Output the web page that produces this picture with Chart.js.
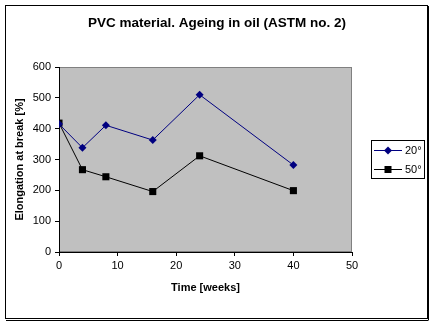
<!DOCTYPE html>
<html>
<head>
<meta charset="utf-8">
<script src="https://cdn.jsdelivr.net/npm/chart.js@4"></script>
<style>
  html, body { margin: 0; padding: 0; background: #fff; }
  #wrap { width: 435px; height: 325px; }
</style>
</head>
<body>
<div id="wrap"><canvas id="chart" width="435" height="325"></canvas></div>
<script>
// data
var weeks = [0, 4, 8, 16, 24, 40];
var elong20 = [415, 338, 411, 363, 510, 282];
var elong50 = [418, 267, 244, 196, 312, 199];
var seriesLabels = ['20°', '50°'];
var chartTitle = 'PVC material. Ageing in oil (ASTM no. 2)';

var FONT = "Arial, 'Liberation Sans', sans-serif";

// gray plot area + outer frame + title centred on the whole frame, Excel style
var frame = {
    id: 'frame',
    beforeDraw: function (chart) {
        var ctx = chart.ctx, a = chart.chartArea;
        ctx.save();
        ctx.fillStyle = '#fff';
        ctx.fillRect(0, 0, chart.width, chart.height);
        ctx.strokeStyle = '#000';
        ctx.lineWidth = 1;
        ctx.strokeRect(5.5, 5.5, 422, 313);
        ctx.beginPath();
        ctx.moveTo(428.5, 6); ctx.lineTo(428.5, 320);
        ctx.moveTo(6, 320.5); ctx.lineTo(428.5, 320.5);
        ctx.stroke();
        ctx.fillStyle = '#c0c0c0';
        ctx.fillRect(a.left, a.top, a.right - a.left, a.bottom - a.top);
        ctx.strokeStyle = '#808080';
        ctx.strokeRect(a.left + 0.5, a.top + 0.5, a.right - a.left - 1, a.bottom - a.top - 1);

        ctx.fillStyle = '#000';
        ctx.font = 'bold 13.5px ' + FONT;
        ctx.textAlign = 'center';
        ctx.textBaseline = 'middle';
        ctx.fillText(chartTitle, 217, 23);
        ctx.restore();
    }
};

// legend box with line + marker, drawn from the dataset styles
var legendBox = {
    id: 'legendBox',
    afterDraw: function (chart) {
        var ctx = chart.ctx;
        var x = 371, y = 140, w = 53, h = 38;
        ctx.save();
        ctx.fillStyle = '#fff';
        ctx.fillRect(x, y, w, h);
        ctx.strokeStyle = '#000';
        ctx.lineWidth = 1;
        ctx.strokeRect(x + 0.5, y + 0.5, w, h);
        chart.data.datasets.forEach(function (ds, i) {
            var cy = y + 10.5 + i * 19;
            ctx.strokeStyle = ds.borderColor;
            ctx.beginPath();
            ctx.moveTo(374, cy); ctx.lineTo(402, cy);
            ctx.stroke();
            ctx.fillStyle = ds.pointBackgroundColor;
            ctx.beginPath();
            if (ds.pointStyle === 'rectRot') {
                ctx.moveTo(388, cy - 4); ctx.lineTo(392, cy);
                ctx.lineTo(388, cy + 4); ctx.lineTo(384, cy);
                ctx.closePath();
                ctx.fill();
            } else {
                ctx.fillRect(384.5, cy - 3.5, 7, 7);
            }
            ctx.fillStyle = '#000';
            ctx.font = '11px ' + FONT;
            ctx.textBaseline = 'middle';
            ctx.fillText(ds.label, 405, cy);
        });
        ctx.restore();
    }
};

var ctx = document.getElementById('chart').getContext('2d');
var myChart = new Chart(ctx, {
    type: 'scatter',
    data: {
        datasets: [
            {
                label: seriesLabels[0],
                data: weeks.map(function (t, i) { return { x: t, y: elong20[i] }; }),
                showLine: true,
                borderColor: '#000080',
                borderWidth: 1,
                pointStyle: 'rectRot',
                pointRadius: 4,
                pointBackgroundColor: '#000080',
                pointBorderColor: '#000080',
                pointBorderWidth: 0
            },
            {
                label: seriesLabels[1],
                data: weeks.map(function (t, i) { return { x: t, y: elong50[i] }; }),
                showLine: true,
                borderColor: '#000000',
                borderWidth: 1,
                pointStyle: 'rect',
                pointRadius: 5,
                pointBackgroundColor: '#000000',
                pointBorderColor: '#000000',
                pointBorderWidth: 0
            }
        ]
    },
    options: {
        responsive: false,
        animation: false,
        layout: { padding: { left: 5, right: 83, top: 67, bottom: 10 } },
        scales: {
            x: {
                type: 'linear',
                position: 'bottom',
                min: 0, max: 50,
                ticks: { stepSize: 10, color: '#000', font: { family: FONT, size: 11 }, padding: 3, maxRotation: 0 },
                grid: { drawOnChartArea: false, drawTicks: true, tickLength: 4, color: '#000' },
                border: { display: true, color: '#000' },
                title: {
                    display: true,
                    text: 'Time [weeks]',
                    color: '#000',
                    font: { family: FONT, size: 11, weight: 'bold' },
                    padding: { top: 20, bottom: 20 }
                },
                afterFit: function (s) { s.height = 63; }
            },
            y: {
                type: 'linear',
                position: 'left',
                min: 0, max: 600,
                ticks: { stepSize: 100, color: '#000', font: { family: FONT, size: 11 }, padding: 4 },
                grid: { drawOnChartArea: false, drawTicks: true, tickLength: 4, color: '#000' },
                border: { display: true, color: '#000' },
                title: {
                    display: true,
                    text: 'Elongation at break [%]',
                    color: '#000',
                    font: { family: FONT, size: 11, weight: 'bold' },
                    padding: { top: 8, bottom: 8 }
                },
                afterFit: function (s) { s.width = 54; }
            }
        },
        plugins: {
            legend: { display: false },
            tooltip: { enabled: false },
            title: { display: false }
        }
    },
    plugins: [frame, legendBox]
});
</script>
</body>
</html>
